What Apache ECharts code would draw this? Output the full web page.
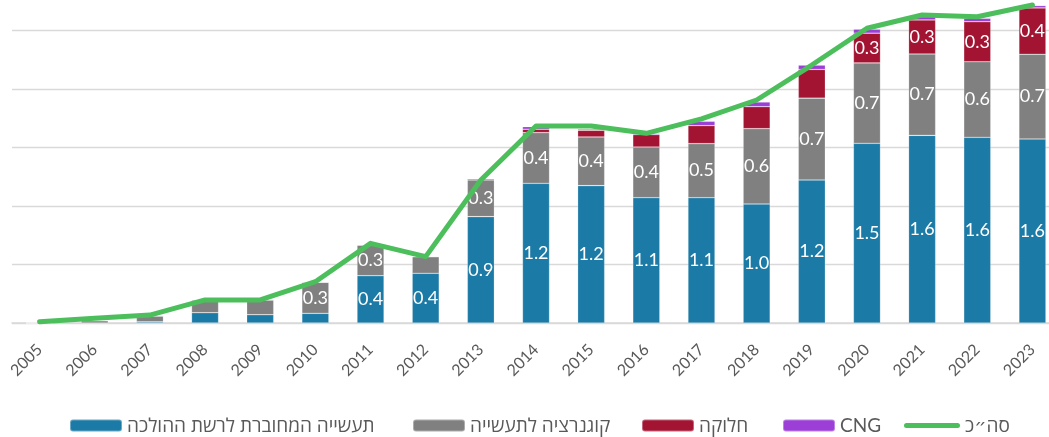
<!DOCTYPE html>
<html><head><meta charset="utf-8">
<script src="https://cdn.jsdelivr.net/npm/echarts@6/dist/echarts.min.js"></script>
<style>html,body{margin:0;padding:0;background:#fff}#c{width:1049px;height:437px}</style>
</head><body><div id="c"></div>
<script>
const years = ['2005','2006','2007','2008','2009','2010','2011','2012','2013','2014','2015','2016','2017','2018','2019','2020','2021','2022','2023'];
const transmissionIndustry = [0,0,0.01,0.088,0.071,0.083,0.404,0.425,0.909,1.194,1.174,1.071,1.071,1.017,1.222,1.536,1.604,1.587,1.573];
const cogeneration = [0,0.02,0.05,0.108,0.126,0.265,0.262,0.142,0.313,0.433,0.416,0.433,0.462,0.644,0.70,0.687,0.695,0.646,0.724];
const distribution = [0,0,0,0,0,0,0,0,0.01,0.029,0.057,0.106,0.154,0.188,0.245,0.254,0.291,0.342,0.396];
const cng = [0,0,0,0,0,0,0,0,0,0.022,0.01,0.01,0.037,0.04,0.037,0.034,0.03,0.029,0.02];
const total = [0.01,0.04,0.068,0.197,0.197,0.353,0.681,0.567,1.222,1.684,1.684,1.621,1.744,1.906,2.205,2.519,2.632,2.618,2.718];
const names = ['תעשייה המחוברת לרשת ההולכה','קוגנרציה לתעשייה','חלוקה','CNG','סה״כ'];

const FONT = "Lato, 'Open Sans', 'DejaVu Sans', sans-serif";
const labelCfg = {
  show: true, position: 'inside', color: '#fff', fontSize: 18, fontFamily: FONT,
  formatter: p => (p.value >= 0.25 ? p.value.toFixed(1) : '')
};
function bar(name, data, color) {
  return { name, type: 'bar', stack: 's', data, barWidth: 27,
    itemStyle: { color, borderColor: 'rgba(255,255,255,0.35)', borderWidth: 0.6 },
    label: labelCfg, emphasis: { disabled: true } };
}
const legendLeft = [69, 412, 641, 782, 904];
const legends = names.map((n, i) => ({
  left: legendLeft[i], top: 416, padding: 0,
  itemWidth: i === 4 ? 56 : 52, itemHeight: 12, itemGap: 0,
  textStyle: { color: '#595959', fontSize: 19, fontFamily: FONT },
  data: [i === 4 ? { name: n, icon: 'path://M2.5,0 L53.5,0 A2.5,2.5 0 0 1 53.5,5 L2.5,5 A2.5,2.5 0 0 1 2.5,0 Z' } : n]
}));
const chart = echarts.init(document.getElementById('c'), null, { renderer: 'canvas' });
chart.setOption({
  animation: false,
  backgroundColor: '#fff',
  grid: { left: 12, right: -11, top: -28, bottom: 114, containLabel: false, outerBoundsMode: 'none' },
  xAxis: {
    type: 'category', data: years,
    axisLine: { lineStyle: { color: '#d9d9d9', width: 1.5 } },
    axisTick: { show: false },
    axisLabel: { rotate: 45, color: '#595959', fontSize: 16, fontFamily: FONT, margin: 24, interval: 0 }
  },
  yAxis: {
    type: 'value', min: 0, max: 3, interval: 0.5,
    axisLabel: { show: false }, axisLine: { show: false }, axisTick: { show: false },
    splitLine: { lineStyle: { color: '#d9d9d9', width: 1.3 } }
  },
  legend: legends,
  series: [
    bar(names[0], transmissionIndustry, '#1c7ba6'),
    bar(names[1], cogeneration, '#808080'),
    bar(names[2], distribution, '#a31432'),
    bar(names[3], cng, '#9b3fd6'),
    { name: names[4], type: 'line', data: total, symbol: 'none', z: 5,
      lineStyle: { color: '#4cbf5c', width: 5, cap: 'round', join: 'round' },
      itemStyle: { color: '#4cbf5c' } }
  ]
});
</script></body></html>
